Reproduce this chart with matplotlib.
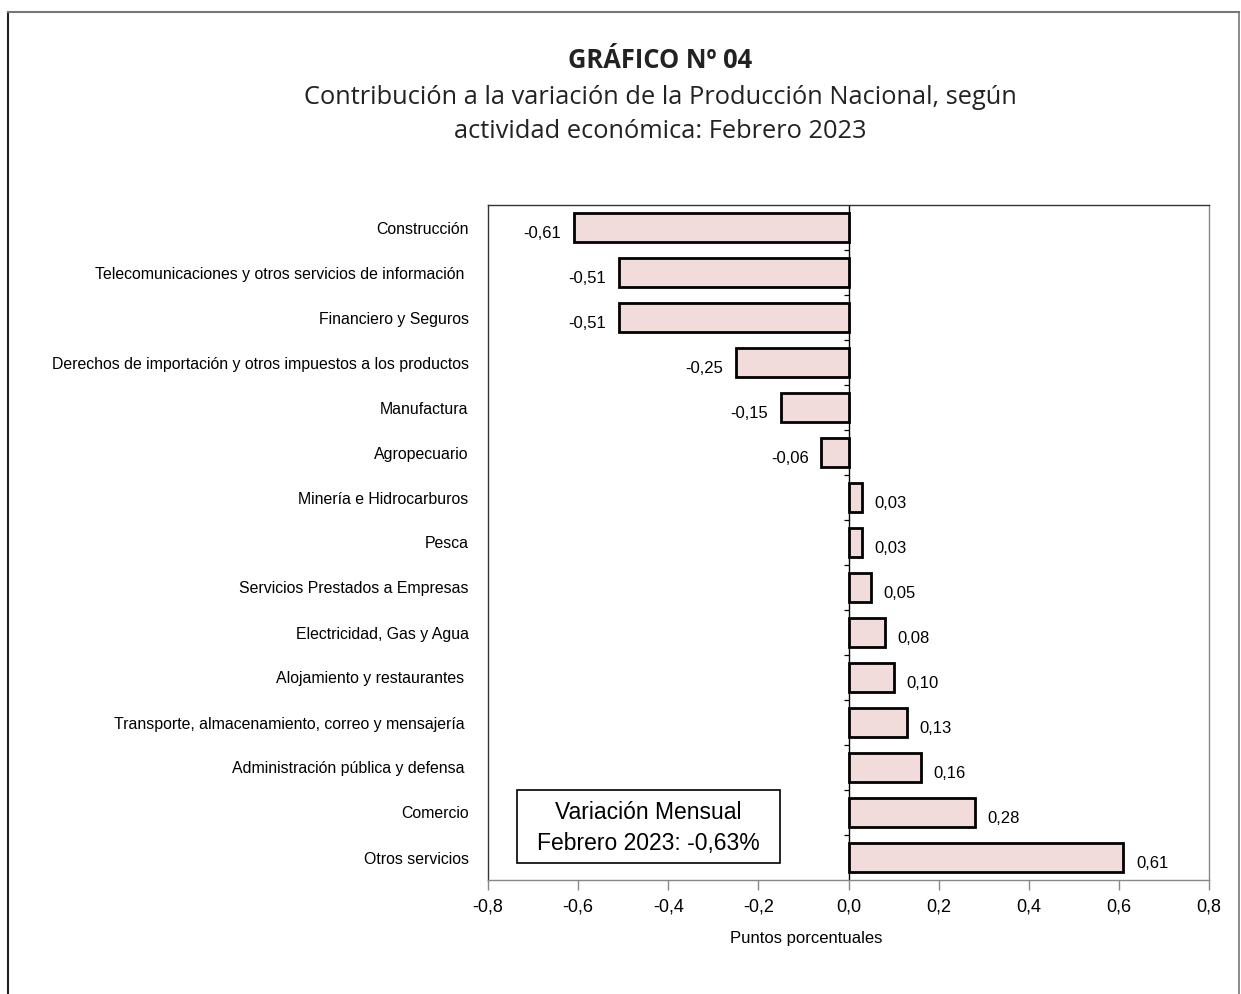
import numpy as np
import matplotlib
matplotlib.use("Agg")
import matplotlib.pyplot as plt
from matplotlib.lines import Line2D
from matplotlib.patches import Rectangle

# data (top to bottom as in the chart)
categories = [
    "Construcción",
    "Telecomunicaciones y otros servicios de información ",
    "Financiero y Seguros",
    "Derechos de importación y otros impuestos a los productos",
    "Manufactura",
    "Agropecuario",
    "Minería e Hidrocarburos",
    "Pesca",
    "Servicios Prestados a Empresas",
    "Electricidad, Gas y Agua",
    "Alojamiento y restaurantes ",
    "Transporte, almacenamiento, correo y mensajería ",
    "Administración pública y defensa ",
    "Comercio",
    "Otros servicios",
]
values = [-0.61, -0.51, -0.51, -0.25, -0.15, -0.06, 0.03, 0.03, 0.05, 0.08,
          0.10, 0.13, 0.16, 0.28, 0.61]
xticks = [-0.8, -0.6, -0.4, -0.2, 0.0, 0.2, 0.4, 0.6, 0.8]
box_text = "Variación Mensual\nFebrero 2023: -0,63%"

NARROW = ["Liberation Sans", "DejaVu Sans"]
TITLE_FONT = ["Open Sans", "DejaVu Sans"]
BAR_COLOR = "#f2dcdb"

fig = plt.figure(figsize=(12.41, 9.94), dpi=100)

# outer frame (left, top, right)
fig.add_artist(Line2D([8 / 1241, 8 / 1241], [0, 1 - 12 / 994], color="#222222", lw=1.5,
                      transform=fig.transFigure))
fig.add_artist(Line2D([8 / 1241, 1239 / 1241], [1 - 12 / 994, 1 - 12 / 994], color="#777777",
                      lw=1.5, transform=fig.transFigure))
fig.add_artist(Line2D([1239 / 1241, 1239 / 1241], [0, 1 - 12 / 994], color="#777777", lw=1.2,
                      transform=fig.transFigure))

fig.text(0.532, 1 - 60 / 994, "GRÁFICO Nº 04", ha="center", va="center",
         fontsize=18.4, fontweight="bold", family=TITLE_FONT, color="#222222")
fig.text(0.532, 1 - 97 / 994, "Contribución a la variación de la Producción Nacional, según",
         ha="center", va="center", fontsize=18.3, family=TITLE_FONT, color="#222222")
fig.text(0.532, 1 - 131 / 994, "actividad económica: Febrero 2023",
         ha="center", va="center", fontsize=18.3, family=TITLE_FONT, color="#222222")

ax = fig.add_axes([488 / 1241, 1 - 880 / 994, 721 / 1241, 675 / 994])
y = np.arange(len(categories))
ax.barh(y, values, height=0.66, color=BAR_COLOR, edgecolor="black", linewidth=2, zorder=3)
ax.set_ylim(len(categories) - 0.5, -0.5)
ax.set_xlim(xticks[0], xticks[-1])
ax.axvline(0, color="black", lw=1, zorder=2)

# small ticks on the zero line between categories
bounds = np.arange(len(categories) - 1) + 0.5
ax.hlines(bounds, -0.009, 0, color="black", lw=0.9, zorder=2)

for yi, v in zip(y, values):
    lbl = f"{v:.2f}".replace(".", ",")
    ax.annotate(lbl, (v, yi), xytext=(9 if v > 0 else -9, -4), textcoords="offset points",
                ha="left" if v > 0 else "right", va="center", fontsize=12, family=NARROW)

ax.set_yticks(y)
ax.set_yticklabels(categories, family=NARROW, fontsize=11.4)
ax.tick_params(axis="y", length=0, pad=14)
ax.set_xticks(xticks)
ax.set_xticklabels([f"{t:.1f}".replace(".", ",") for t in xticks], family=NARROW, fontsize=13)
ax.tick_params(axis="x", direction="out", length=7, width=1, color="#888888", pad=6)
ax.set_xlabel("Puntos porcentuales", family=NARROW, fontsize=12)
ax.xaxis.set_label_coords((806 - 488) / 721, -0.075)

for side in ["top", "left"]:
    ax.spines[side].set_color("#333333")
    ax.spines[side].set_linewidth(1)
for side in ["bottom", "right"]:
    ax.spines[side].set_color("#888888")
    ax.spines[side].set_linewidth(1)

# summary box
bx0, bx1 = (517 - 488) / 721, (780 - 488) / 721
by0, by1 = 1 - (863 - 205) / 675, 1 - (790 - 205) / 675
ax.add_patch(Rectangle((bx0, by0), bx1 - bx0, by1 - by0, transform=ax.transAxes,
                       facecolor="white", edgecolor="black", lw=1.2, zorder=5))
ax.text((bx0 + bx1) / 2, (by0 + by1) / 2 - 0.002, box_text, transform=ax.transAxes,
        ha="center", va="center", fontsize=16.5, family=NARROW, linespacing=1.45, zorder=6)

fig.savefig("out.png", dpi=100, facecolor="white")
